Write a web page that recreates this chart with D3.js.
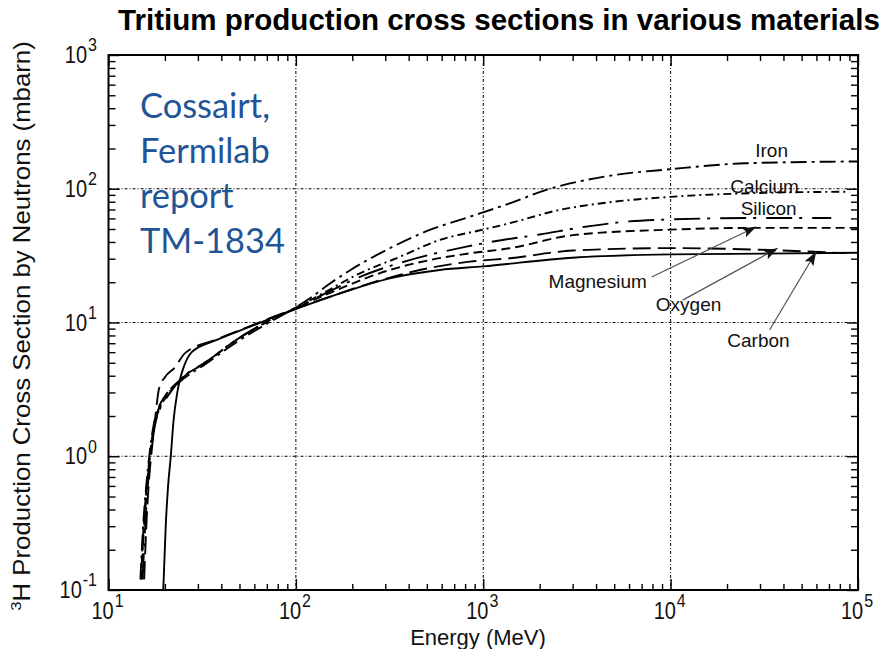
<!DOCTYPE html>
<html><head><meta charset="utf-8">
<script src="https://cdn.jsdelivr.net/npm/d3@7"></script>
<style>
body{margin:0;background:#fff;}
svg{display:block;font-family:"Liberation Sans",Arial,sans-serif;}
</style>
</head><body>
<svg id="c" width="894" height="649"></svg>
<script>
// ---------------- data ----------------
const materials = ["Iron","Calcium","Silicon","Magnesium","Oxygen","Carbon"];

const ironEnergy = [14.8,15.3,15.9,16.5,17.4,18.6,20,24,33,48,70,100,120,150,194,317,518,848,1384,2170,4900,10000,25000,100000];
const ironSigma  = [0.12,0.3,0.6,1.0,1.7,2.35,2.8,3.6,4.9,7.1,9.8,13.0,15.3,19.3,24.5,35.9,49.2,61.8,77.8,98,126,140,155,160];

const calciumEnergy = [15.0,15.5,16.1,16.7,17.6,18.8,20.2,24,33.4,48,70,100,150,211,359,586,1000,1384,2500,5000,10000,30000,90000];
const calciumSigma  = [0.12,0.3,0.6,1.0,1.7,2.3,2.75,3.7,5.1,7.4,10.1,12.9,17.5,22.7,31,41.4,49.5,55.2,69,80,87,93,95];

const siliconEnergy = [15.2,15.7,16.2,16.8,17.7,18.9,20.3,24,33.4,48,70,100,150,211,405,813,1175,2000,3500,6000,10000,30000,72000];
const siliconSigma  = [0.12,0.3,0.6,1.0,1.7,2.3,2.7,3.7,5.1,7.4,10.1,12.8,17,21.4,29.3,36.9,40.7,45.5,52,57,59,60.5,60.5];

const magnesiumEnergy = [14.9,15.4,16.0,16.6,17.5,18.7,20,24,33.4,48,70,100,150,317,518,848,1384,3000,10000,30000,100000];
const magnesiumSigma  = [0.12,0.3,0.6,1.0,1.7,2.35,2.8,3.7,5.1,7.4,10.1,12.8,16.5,24.7,29.3,32.9,35.9,45,49.5,51,51];

const oxygenEnergy = [15.5,16.0,16.5,17.0,17.8,18.6,20.0,22.6,25.6,38,57,82,100,150,248,458,848,1384,3000,10000,30000,85000];
const oxygenSigma  = [0.12,0.35,0.7,1.1,2.0,3.2,3.9,4.6,5.9,7.5,9.4,11.5,12.7,15.5,19.6,24.7,28.5,30.2,34.5,36,35,33];

const carbonEnergy = [19.6,20.2,20.8,21.5,22.2,23.2,24,25,27.8,37.8,57,82,100,172,317,586,1000,3000,10000,100000];
const carbonSigma  = [0.1,0.3,0.6,1.0,1.8,2.9,3.7,4.5,6.0,7.4,9.3,11.4,12.6,16.5,21.4,24.7,26.3,30.5,32.3,33.2];

// label anchors (energy, sigma)
const labelEnergy = [34600,31700,33350,4080,12470,29440];
const labelSigma  = [172.8,92.9,63.6,18.1,12.2,6.56];

// arrows for Magnesium, Oxygen, Carbon: start (energy, sigma) -> tip (energy, sigma)
const arrowMaterials = ["Magnesium","Oxygen","Carbon"];
const arrowStartEnergy = [7920,11590,33730];
const arrowStartSigma  = [21.9,14.7,8.79];
const arrowTipEnergy   = [28650,37240,59800];
const arrowTipSigma    = [52,35.9,33.8];

const xMajorTicks = [10,100,1000,10000,100000];
const xExponents  = ["1","2","3","4","5"];
const yMajorTicks = [0.1,1,10,100,1000];
const yExponents  = ["-1","0","1","2","3"];

const titleText = "Tritium production cross sections in various materials";
const noteLines = ["Cossairt,","Fermilab","report","TM-1834"];
const xLabel = "Energy (MeV)";
const yLabelSup = "3";
const yLabelRest = "H Production Cross Section by Neutrons (mbarn)";

// ---------------- drawing ----------------
const series = {
  Iron:[ironEnergy,ironSigma], Calcium:[calciumEnergy,calciumSigma],
  Silicon:[siliconEnergy,siliconSigma], Magnesium:[magnesiumEnergy,magnesiumSigma],
  Oxygen:[oxygenEnergy,oxygenSigma], Carbon:[carbonEnergy,carbonSigma]
};
const dashes = {Iron:"16,5,3,5",Calcium:"8,4,2,4",Silicon:"26,7,3,10",Magnesium:"9,5",Oxygen:"18,7",Carbon:null};

const svg = d3.select("#c");
const L=108.5,R=858,T=55,B=590;
const x = d3.scaleLog().domain([10,1e5]).range([L,R]);
const y = d3.scaleLog().domain([0.1,1000]).range([B,T]);

const minor = (majors)=>{const a=[];majors.slice(0,-1).forEach(d=>{for(let k=2;k<=9;k++)a.push(d*k);});return a;};
const xMinor = minor(xMajorTicks), yMinor = minor(yMajorTicks);

// defs
const defs = svg.append("defs");
defs.append("clipPath").attr("id","plot").append("rect").attr("x",L).attr("y",T).attr("width",R-L).attr("height",B-T);
defs.append("marker").attr("id","ah").attr("viewBox","0 0 14 10").attr("refX",14).attr("refY",5)
  .attr("markerWidth",14).attr("markerHeight",10).attr("markerUnits","userSpaceOnUse").attr("orient","auto")
  .append("path").attr("d","M0,0 L14,5 L0,10 L3,5 Z").attr("fill","#111");

// grid
const grid = svg.append("g").attr("stroke","#000").attr("stroke-width",1).attr("stroke-dasharray","3,2,1,2");
grid.selectAll("line.v").data(xMajorTicks.slice(1,-1)).join("line")
  .attr("x1",d=>x(d)).attr("x2",d=>x(d)).attr("y1",T).attr("y2",B);
grid.selectAll("line.h").data(yMajorTicks.slice(1,-1)).join("line")
  .attr("y1",d=>y(d)).attr("y2",d=>y(d)).attr("x1",L).attr("x2",R);

// ticks (inward)
function ax(gen, tr, vals, size){
  const g = svg.append("g").attr("transform",tr).call(gen.tickValues(vals).tickSize(-size).tickFormat(()=>""));
  g.select(".domain").remove();
  g.selectAll("line").attr("stroke","#000").attr("stroke-width",1.4);
}
ax(d3.axisBottom(x),`translate(0,${B})`,xMajorTicks,11);
ax(d3.axisBottom(x),`translate(0,${B})`,xMinor,6);
ax(d3.axisTop(x),`translate(0,${T})`,xMajorTicks,11);
ax(d3.axisTop(x),`translate(0,${T})`,xMinor,6);
ax(d3.axisLeft(y),`translate(${L},0)`,yMajorTicks,11);
ax(d3.axisLeft(y),`translate(${L},0)`,yMinor,7);
ax(d3.axisRight(y),`translate(${R},0)`,yMajorTicks,11);
ax(d3.axisRight(y),`translate(${R},0)`,yMinor,7);

// frame
svg.append("rect").attr("x",L).attr("y",T).attr("width",R-L).attr("height",B-T)
  .attr("fill","none").attr("stroke","#000").attr("stroke-width",2);

// tick labels
const SY=1.17;
xMajorTicks.forEach((d,i)=>{
  const g = svg.append("g").attr("transform",`translate(${x(d)-17},619) scale(1,${SY})`);
  const t = g.append("text").attr("font-size",20).attr("fill","#111");
  t.append("tspan").text("10");
  t.append("tspan").attr("font-size",16).attr("dy",-10).attr("dx",1).text(xExponents[i]);
});
yMajorTicks.forEach((d,i)=>{
  const g = svg.append("g").attr("transform",`translate(97,${y(d)+8}) scale(1,${SY})`);
  const t = g.append("text").attr("font-size",20).attr("fill","#111").attr("text-anchor","end");
  t.append("tspan").text("10");
  t.append("tspan").attr("font-size",16).attr("dy",-10).attr("dx",1).text(yExponents[i]);
});

// axis titles
svg.append("text").attr("x",478).attr("y",645).attr("text-anchor","middle")
  .attr("font-size",22).attr("fill","#111").text(xLabel);
const yg = svg.append("g").attr("transform","translate(30,326) rotate(-90)");
const yt = yg.append("text").attr("font-size",23).attr("fill","#111").attr("text-anchor","middle");
yt.append("tspan").attr("font-size",15).attr("dy",-9).text(yLabelSup);
yt.append("tspan").attr("dy",9).text(yLabelRest);
const ylen = yt.node().getComputedTextLength();
yg.attr("transform",`translate(30,326) rotate(-90) scale(${570/ylen},1)`);

// curves
const line = d3.line().x(d=>x(d[0])).y(d=>y(d[1])).curve(d3.curveMonotoneX);
const cg = svg.append("g").attr("clip-path","url(#plot)");
materials.forEach(m=>{
  const [e,s] = series[m];
  const pts = e.map((v,i)=>[v,s[i]]);
  cg.append("path").attr("d",line(pts)).attr("fill","none").attr("stroke","#000")
    .attr("stroke-width",1.9).attr("stroke-dasharray",dashes[m]).attr("stroke-linecap","butt");
});

// arrows
arrowMaterials.forEach((m,i)=>{
  svg.append("line").attr("x1",x(arrowStartEnergy[i])).attr("y1",y(arrowStartSigma[i]))
    .attr("x2",x(arrowTipEnergy[i])).attr("y2",y(arrowTipSigma[i]))
    .attr("stroke","#555").attr("stroke-width",1.2).attr("marker-end","url(#ah)");
});

// material labels
materials.forEach((m,i)=>{
  svg.append("text").attr("x",x(labelEnergy[i])).attr("y",y(labelSigma[i]))
    .attr("text-anchor","middle").attr("font-size",19).attr("fill","#111").text(m);
});

// title
const tt = svg.append("text").attr("x",118).attr("y",30).attr("font-weight","bold")
  .attr("font-size",24).attr("fill","#000").text(titleText);
const tl = tt.node().getComputedTextLength();
tt.attr("font-size",24*762/tl);

// blue note
const ng = svg.append("g").attr("font-family","Lato, 'Open Sans', sans-serif").attr("fill","#1f5597");
const probe = ng.append("text").attr("font-size",100).text(noteLines[0]);
const fs = 100*130/probe.node().getComputedTextLength();
probe.remove();
noteLines.forEach((s,i)=>{
  ng.append("text").attr("x",140).attr("y",118+45*i).attr("font-size",fs).text(s);
});
</script>
</body></html>
